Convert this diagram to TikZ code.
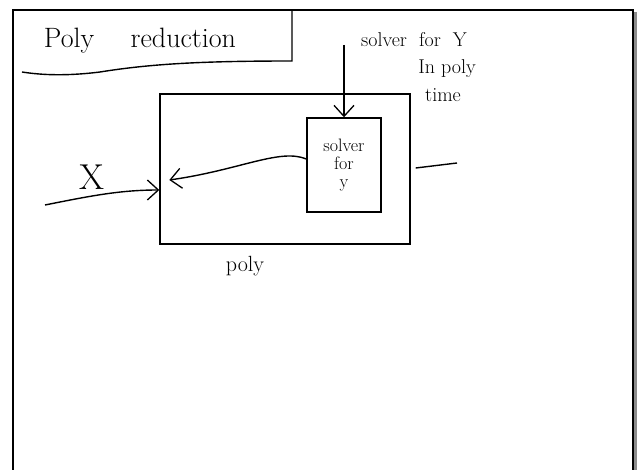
\documentclass[tikz,border=0pt]{standalone}
\usetikzlibrary{arrows,arrows.meta,calc,positioning}
\definecolor{FrameClr}{rgb}{0.55,0.55,0.55}
\definecolor{InkClr}{rgb}{0,0,0}

\begin{document}
\begin{tikzpicture}[x=1pt,y=-1pt,line width=1.4pt,color=InkClr,
  box/.style={draw,line width=1.4pt,inner sep=0pt},
  hand/.style={inner sep=1pt,font=\fontsize{20}{22}\selectfont},
  barb/.style={-{Straight Barb[length=11pt,width=20pt,line width=1.3pt]}}]
\useasboundingbox (0,0) rectangle (640,470);

\draw[FrameClr,line width=2.5pt] (635.5,12) -- (635.5,470);
\draw[line width=2.2pt] (13,470) -- (13,10) -- (633,10) -- (633,470);

\node[hand,font=\fontsize{28}{30}\selectfont] (title) at (140,41) {Poly\quad\ reduction};
\draw (292,10) -- (292,61) .. controls (200,61) and (150,64) .. (100,72) .. controls (60,77) and (35,74) .. (22,72);

\node[box,minimum width=250pt,minimum height=150pt] (mainbox) at (285,169) {};
\node[box,minimum width=74pt,minimum height=94pt,align=center,
  font=\fontsize{18}{18}\selectfont] (solver) at (344,165) {solver\\for\\y};

\node[hand] (note1) at (414,40) {solver\ \ for\ \ Y};
\node[hand] (note2) at (447,69) {In\ poly};
\node[hand] (note3) at (443,95) {time};
\coordinate (arrtop) at (344,45);
\draw[barb] (arrtop) -- (solver.north);

\node[hand,font=\fontsize{36}{38}\selectfont] (xlabel) at (92,177) {X};
\coordinate (xin) at (45,205);
\draw[barb] (xin) .. controls (90,196) and (120,190) .. ([yshift=-21pt]mainbox.west);

\draw[barb] ([yshift=6pt]solver.west) .. controls (280,148) and (240,170) .. ([xshift=10pt,yshift=-11pt]mainbox.west);

\coordinate (xout) at (457,163);
\draw ([xshift=5pt,yshift=1pt]mainbox.east) -- (xout);

\node[hand,font=\fontsize{22}{24}\selectfont,below=10pt of mainbox.south,xshift=-40pt] (polylabel) {poly};
\end{tikzpicture}
\end{document}
